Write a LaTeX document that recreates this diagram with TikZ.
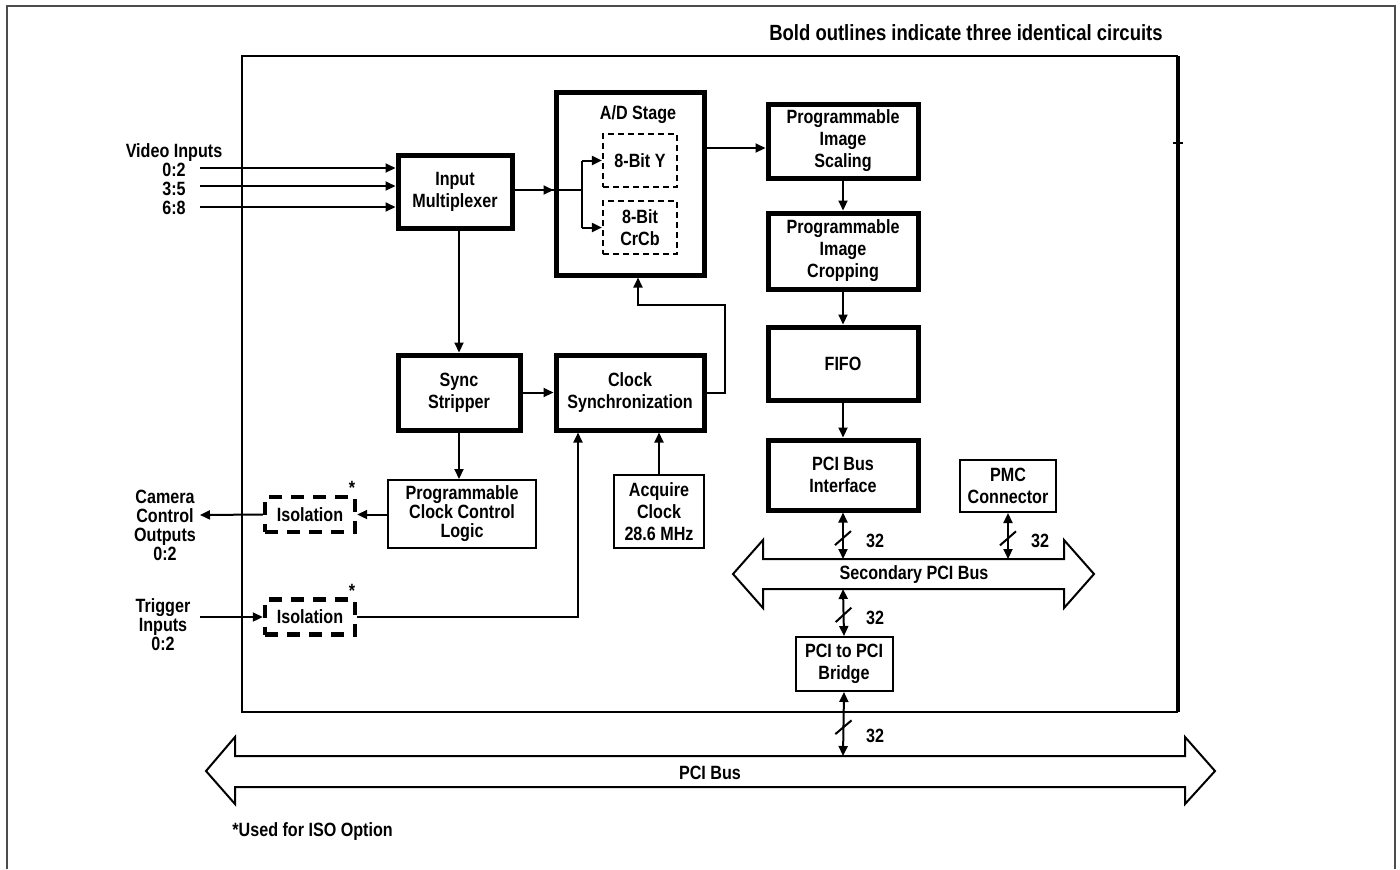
\documentclass[tikz,border=0pt]{standalone}
\usepackage{fontspec}
\setmainfont{Liberation Sans}[FakeStretch=0.84]
\usetikzlibrary{arrows.meta,decorations.markings}
\tikzset{
    every node/.style={font=\fontsize{9.6}{11}\selectfont\bfseries,align=center,inner sep=0pt},
    tight/.style={font=\fontsize{9.6}{9.5}\selectfont\bfseries},
    thk/.style={draw,line width=2.5pt},
    thn/.style={draw,line width=1pt},
    dsh/.style={draw,line width=1.1pt,dash pattern=on 3pt off 2pt,minimum width=37pt,minimum height=26.5pt},
    iso/.style={draw,line width=2.2pt,dash pattern=on 6.5pt off 4.5pt,minimum width=45pt,minimum height=17.5pt},
    sig/.style={line width=1pt,-{Triangle[length=5pt,width=4.5pt]}},
    bid/.style={line width=1pt,{Triangle[length=5pt,width=4.5pt]}-{Triangle[length=5pt,width=4.5pt]},
        decoration={markings,mark=at position 0.55 with {\draw[-,line width=1pt] (3.5pt,-4pt) -- (-3.5pt,4pt);}},
        postaction={decorate}}
}
\begin{document}
\begin{tikzpicture}[x=0.5pt,y=-0.5pt]
    \useasboundingbox (0,0) rectangle (1400,869);
    % frame and board
    \draw [black!70,line width=1pt] (7,869) -- (7,6) -- (1395,6) -- (1395,869);
    \node [anchor=east,font=\fontsize{11}{12}\selectfont\bfseries] (note) at (1163,33) {Bold outlines indicate three identical circuits};
    \draw [line width=1pt] (1178,56) -- (242,56) -- (242,712) -- (1178,712);
    \draw [line width=1.6pt] (1178,56) -- (1178,712);
    \draw [line width=1pt] (1173,143) -- (1183,143);
    % blocks
    \node [thk,minimum width=57pt,minimum height=36.5pt] (mux) at (455,192) {Input\\Multiplexer};
    \node [thk,minimum width=74pt,minimum height=91.5pt] (adc) at (630,183.5) {};
    \node (adlbl) at (638,115) {A/D Stage};
    \node [dsh] (ybit) at (640,160.5) {8-Bit Y};
    \node [dsh] (cbit) at (640,227.5) {8-Bit\\CrCb};
    \node [thk,minimum width=75pt,minimum height=37pt] (scal) at (843,141) {Programmable\\Image\\Scaling};
    \node [thk,minimum width=75pt,minimum height=38pt] (crop) at (843,251) {Programmable\\Image\\Cropping};
    \node [thk,minimum width=75pt,minimum height=36.5pt] (fifo) at (843,363.5) {FIFO};
    \node [thk,minimum width=75pt,minimum height=35pt] (pcif) at (843,475) {PCI Bus\\Interface};
    \node [thn,minimum width=48pt,minimum height=26pt] (pmc) at (1008,486) {PMC\\Connector};
    \node [thk,minimum width=61pt,minimum height=37.5pt] (sync) at (459,392.5) {Sync\\Stripper};
    \node [thk,minimum width=74pt,minimum height=37.5pt] (csyn) at (630,392.5) {Clock\\Synchronization};
    \node [thn,minimum width=45pt,minimum height=36.5pt] (acq) at (659,511.5) {Acquire\\Clock\\28.6 MHz};
    \node [thn,tight,minimum width=74pt,minimum height=34pt] (pccl) at (462,514) {Programmable\\Clock Control\\Logic};
    \node [iso] (iso1) at (310,514.5) {Isolation};
    \node [iso] (iso2) at (310,617) {Isolation};
    \node (ast1) at (352,488) {*};
    \node (ast2) at (352,591) {*};
    \node [thn,minimum width=48.5pt,minimum height=27pt] (brdg) at (844,664) {PCI to PCI\\Bridge};
    % outside labels
    \node [tight] (vlbl) at (174,179) {Video Inputs\\0:2\\3:5\\6:8};
    \node [tight] (clbl) at (165,525) {Camera\\Control\\Outputs\\0:2};
    \node [tight] (tlbl) at (163,625) {Trigger\\Inputs\\0:2};
    \node [anchor=west] (iso) at (232,832) {*Used for ISO Option};
    % buses
    \draw [line width=1pt] (733,574) -- (763,540) -- (763,559) -- (1064,559) -- (1064,540)
        -- (1094,574) -- (1064,608) -- (1064,589) -- (763,589) -- (763,608) -- cycle;
    \node (sbus) at (914,575) {Secondary PCI Bus};
    \draw [line width=1pt] (206,771) -- (235,737) -- (235,756) -- (1185,756) -- (1185,737)
        -- (1215,771) -- (1185,804) -- (1185,787) -- (235,787) -- (235,804) -- cycle;
    \node (pbus) at (710,773) {PCI Bus};
    \coordinate (sbtop1) at (843,559);
    \coordinate (sbtop2) at (1008,559);
    \coordinate (sbbot) at (843,589);
    \coordinate (pbtop) at (843,756);
    % signal paths
    \foreach \y/\n in {168/1,186/2,207/3} {
        \coordinate (vin\n) at (200,\y);
        \draw [sig] (vin\n) -- (vin\n -| mux.west);
    }
    \coordinate (fork) at (582,190);
    \draw [line width=1pt] (mux.east |- fork) -- (fork);
    \draw [sig] (mux.east |- fork) -- (adc.west |- fork);
    \draw [line width=1pt] (fork |- ybit.west) -- (fork |- cbit.west);
    \draw [sig] (fork |- ybit.west) -- (ybit.west);
    \draw [sig] (fork |- cbit.west) -- (cbit.west);
    \coordinate (adout) at (704,148);
    \draw [sig] (adout) -- (adout -| scal.west);
    \draw [sig] (scal.south) -- (crop.north);
    \draw [sig] (crop.south) -- (fifo.north);
    \draw [sig] (fifo.south) -- (pcif.north);
    \draw [bid] (pcif.south) -- (sbtop1);
    \draw [bid] (pmc.south) -- (sbtop2);
    \draw [bid] (sbbot) -- (brdg.north);
    \draw [bid] (brdg.south) -- (pbtop);
    \node (w1) at (875,541) {32};
    \node (w2) at (1040,541) {32};
    \node (w3) at (875,618) {32};
    \node (w4) at (875,736) {32};
    \draw [sig] (sync.north |- mux.south) -- (sync.north);
    \draw [sig] (sync.east) -- (csyn.west);
    \coordinate (loop) at (725,305);
    \draw [sig] (csyn.east) -| (loop) -| ([xshift=4pt]adc.south);
    \draw [sig] (acq.north) -- (acq.north |- csyn.south);
    \draw [sig] (sync.south) -- (sync.south |- pccl.north);
    \draw [sig] (pccl.west |- iso1.east) -- (iso1.east);
    \coordinate (camout) at (200,515);
    \draw [sig] (iso1.west) -- (camout);
    \coordinate (trgin) at (200,617);
    \draw [sig] (trgin) -- (iso2.west);
    \coordinate (trg) at (578,617);
    \draw [sig] (iso2.east) -- (trg) -- (trg |- csyn.south);
\end{tikzpicture}
\end{document}
